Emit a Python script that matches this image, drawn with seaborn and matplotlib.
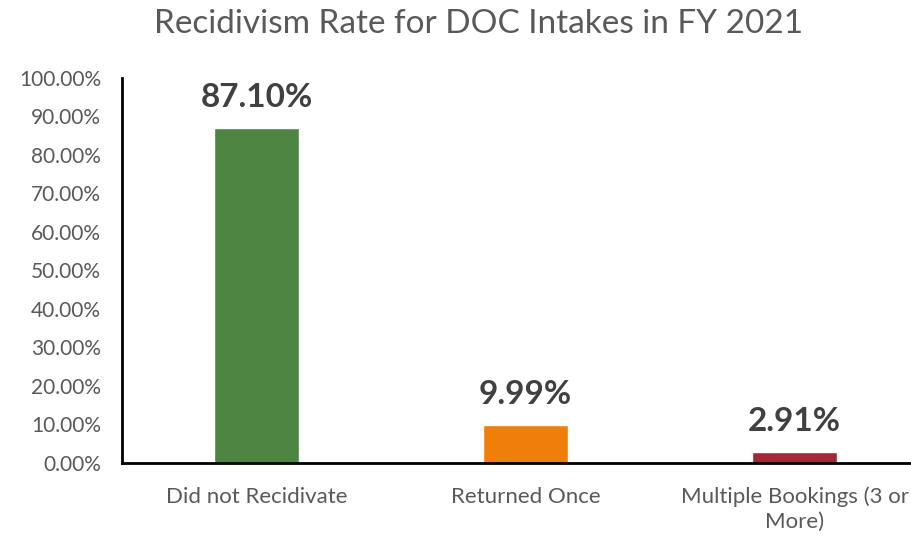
import pandas as pd
import seaborn as sns
import matplotlib.pyplot as plt
from matplotlib.ticker import PercentFormatter

categories = ['Did not Recidivate', 'Returned Once', 'Multiple Bookings (3 or\nMore)']
rates = [0.8710, 0.0999, 0.0291]
colors = ['#4E8542', '#F07F09', '#9E2A36']

df = pd.DataFrame({'category': categories, 'rate': rates})

sns.set_style('white')
plt.rcParams['font.family'] = ['Lato', 'DejaVu Sans']

fig = plt.figure(figsize=(9.11, 5.36), dpi=100)
ax = fig.add_axes([0.1339, 0.1362, 0.886, 0.7183])

sns.barplot(data=df, x='category', y='rate', hue='category', palette=colors,
            legend=False, width=0.316, saturation=1, ax=ax)

ax.set_xlim(-0.5, 2.5)
ax.set_ylim(0, 1)
ax.yaxis.set_major_formatter(PercentFormatter(1.0, decimals=2))
ax.set_yticks([i / 10 for i in range(11)])
ax.tick_params(axis='y', labelsize=15, labelcolor='#595959', length=0, pad=15)
ax.tick_params(axis='x', labelsize=16, labelcolor='#595959', length=0, pad=17)
for lbl in ax.get_xticklabels():
    lbl.set_linespacing(1.3)
ax.set_xlabel('')
ax.set_ylabel('')

for s in ['top', 'right']:
    ax.spines[s].set_visible(False)
for s in ['left', 'bottom']:
    ax.spines[s].set_color('black')
    ax.spines[s].set_linewidth(2)

# value labels above the bars
for i, v in enumerate(rates):
    ax.text(i, v + 0.04, f'{v * 100:.2f}%', ha='center', va='bottom',
            fontsize=24, fontweight='bold', color='#404040')

fig.suptitle('Recidivism Rate for DOC Intakes in FY 2021', x=0.525, y=0.983,
             fontsize=24, color='#595959', va='top')

plt.savefig('out.png', dpi=100)
